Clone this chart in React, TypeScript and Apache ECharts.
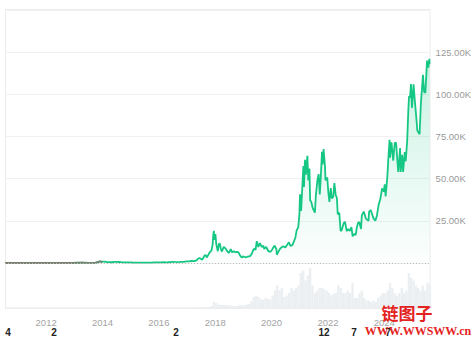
import React, { useEffect, useRef } from 'react';
import * as echarts from 'echarts';

const priceDates: string[] = [
  '2010-07-17', '2010-10-01', '2011-01-01', '2011-06-08', '2011-09-01', '2011-12-01', '2012-06-01', '2012-12-01',
  '2013-04-09', '2013-07-01', '2013-10-01', '2013-12-01', '2013-12-20',
  '2014-01-01', '2014-02-01', '2014-03-01', '2014-04-01', '2014-05-01', '2014-06-01', '2014-07-01', '2014-08-01', '2014-09-01', '2014-10-01', '2014-11-01', '2014-12-01',
  '2015-01-01', '2015-02-01', '2015-03-01', '2015-04-01', '2015-05-01', '2015-06-01', '2015-07-01', '2015-08-01', '2015-09-01', '2015-10-01', '2015-11-01', '2015-12-01',
  '2016-01-01', '2016-02-01', '2016-03-01', '2016-04-01', '2016-05-01', '2016-06-01', '2016-07-01', '2016-08-01', '2016-09-01', '2016-10-01', '2016-11-01', '2016-12-01',
  '2017-01-01', '2017-02-01', '2017-03-01', '2017-04-01', '2017-05-01', '2017-05-25', '2017-06-12', '2017-07-01', '2017-07-16', '2017-08-01', '2017-08-15', '2017-09-01', '2017-09-15', '2017-10-01', '2017-10-20', '2017-11-01', '2017-11-15', '2017-12-01', '2017-12-08', '2017-12-17', '2017-12-22',
  '2018-01-06', '2018-01-17', '2018-02-06', '2018-02-20', '2018-03-05', '2018-03-18', '2018-04-01', '2018-04-24', '2018-05-15', '2018-06-01', '2018-06-28', '2018-07-24', '2018-08-10', '2018-08-30', '2018-09-15', '2018-10-15', '2018-11-01', '2018-11-20', '2018-12-15', '2018-12-28',
  '2019-01-15', '2019-02-07', '2019-02-28', '2019-03-31', '2019-04-20', '2019-05-14', '2019-05-30', '2019-06-10', '2019-06-26', '2019-07-16', '2019-08-06', '2019-08-29', '2019-09-20', '2019-10-01', '2019-10-26', '2019-11-25', '2019-12-17',
  '2020-01-01', '2020-01-20', '2020-02-13', '2020-03-08', '2020-03-12', '2020-04-01', '2020-04-29', '2020-05-20', '2020-06-10', '2020-07-01', '2020-07-27', '2020-08-17', '2020-09-05', '2020-10-01', '2020-10-21', '2020-11-10', '2020-11-24', '2020-12-16', '2020-12-31',
  '2021-01-08', '2021-01-22', '2021-02-08', '2021-02-21', '2021-02-28', '2021-03-13', '2021-03-25', '2021-04-13', '2021-04-25', '2021-05-10', '2021-05-19', '2021-06-01', '2021-06-22', '2021-07-20', '2021-08-01', '2021-08-22', '2021-09-06', '2021-09-21', '2021-10-01', '2021-10-20', '2021-10-28', '2021-11-09', '2021-11-28', '2021-12-04', '2021-12-27',
  '2022-01-10', '2022-01-24', '2022-02-10', '2022-02-24', '2022-03-15', '2022-03-29', '2022-04-15', '2022-05-01', '2022-05-12', '2022-06-01', '2022-06-18', '2022-07-01', '2022-07-30', '2022-08-15', '2022-09-06', '2022-09-15', '2022-10-15', '2022-11-05', '2022-11-21', '2022-12-15', '2022-12-30',
  '2023-01-14', '2023-01-29', '2023-02-15', '2023-03-10', '2023-03-20', '2023-04-14', '2023-05-12', '2023-06-15', '2023-06-23', '2023-07-13', '2023-08-17', '2023-09-11', '2023-10-01', '2023-10-24', '2023-11-15', '2023-12-08', '2023-12-31',
  '2024-01-11', '2024-01-23', '2024-02-15', '2024-02-28', '2024-03-14', '2024-03-20', '2024-04-08', '2024-04-30', '2024-05-21', '2024-06-07', '2024-06-24', '2024-07-05', '2024-07-29', '2024-08-05', '2024-08-25', '2024-09-06', '2024-09-28', '2024-10-10', '2024-10-29', '2024-11-13', '2024-11-22', '2024-12-05', '2024-12-17', '2024-12-30',
  '2025-01-20', '2025-02-03', '2025-02-25', '2025-03-10', '2025-04-08', '2025-04-25', '2025-05-10', '2025-05-22', '2025-06-05', '2025-06-22', '2025-07-14', '2025-07-31', '2025-08-13', '2025-08-16',
];

const priceValues: number[] = [
  0.05, 0.06, 0.3, 30, 8, 3, 5, 13,
  200, 90, 125, 1000, 650,
  770, 800, 560, 470, 450, 630, 640, 590, 480, 390, 330, 380,
  320, 230, 255, 245, 235, 225, 260, 280, 230, 237, 320, 360,
  430, 370, 435, 415, 450, 535, 680, 620, 570, 610, 700, 750,
  1000, 980, 1190, 1080, 1420, 2500, 2950, 2500, 1950, 2870, 4300, 4800, 3300, 4400, 6000, 6700, 7300, 10900, 16000, 19100, 13800,
  17100, 11200, 7000, 11400, 11500, 8200, 6800, 9600, 8700, 7500, 5900, 8200, 6300, 7000, 6500, 6600, 6350, 4500, 3200, 3900,
  3600, 3400, 3800, 4100, 5300, 7900, 8600, 7700, 12900, 9500, 11800, 9500, 10200, 8300, 9500, 7000, 6600,
  7200, 8700, 10300, 8000, 4900, 6600, 8800, 9500, 9800, 9200, 11000, 12300, 10200, 10600, 12800, 15300, 19200, 21300, 29000,
  40800, 30800, 46300, 57500, 45100, 61200, 52300, 63500, 49000, 56000, 37000, 36600, 32500, 29800, 39900, 49300, 52700, 40700, 48000, 66000, 58500, 67500, 57200, 49000, 50700,
  41800, 36200, 44400, 38300, 39300, 47400, 40500, 38500, 28900, 29800, 19000, 19300, 23800, 24300, 18800, 20200, 19100, 21300, 15800, 17400, 16500,
  20900, 23700, 24300, 20200, 28200, 30500, 26300, 25000, 30500, 31400, 26600, 25100, 27900, 34500, 37900, 44200, 42300,
  46600, 39500, 51800, 62500, 73100, 62400, 71600, 60600, 71400, 71100, 60300, 54000, 68200, 54000, 64200, 54000, 65800, 60300, 72500, 90500, 98900, 98000, 106100, 92000,
  106000, 97500, 86000, 78500, 76300, 94700, 104000, 111600, 101500, 100900, 120000, 115800, 121000, 118000,
];

// monthly volume (billions), Jan 2017 .. Aug 2025
const volumeStartYear = 2017;
const volumeValues: number[] = [
  0.3, 0.2, 0.5, 0.4, 1.2, 1.5, 1.0, 2.0, 2.0, 2.0, 4.0, 12,
  10, 7, 6, 6, 6, 5, 5, 4, 4, 4, 6, 5,
  6, 7, 8, 14, 22, 25, 22, 18, 16, 20, 18, 17,
  25, 35, 45, 35, 40, 22, 25, 30, 40, 35, 40, 45,
  70, 75, 55, 65, 80, 45, 30, 35, 40, 40, 38, 35,
  30, 25, 28, 30, 45, 40, 30, 30, 35, 30, 50, 20,
  20, 30, 35, 20, 15, 15, 12, 15, 12, 20, 25, 30,
  30, 35, 50, 40, 30, 25, 30, 40, 30, 35, 70, 60,
  55, 45, 40, 35, 45, 35, 50, 45,
];

const yearLabels: number[] = [2012, 2014, 2016, 2018, 2020, 2022, 2024];
const axisStart = '2010-07-17';
const axisEnd = '2025-08-16';
const earlyEnd = 2014.0; // early history drawn in grey
const priceMax = 150000;
const priceStep = 25000;
const volumeMax = 90;

const strayTexts: { text: string; x: number }[] = [
  { text: '4', x: 8 },
  { text: '2', x: 54 },
  { text: '2', x: 176 },
  { text: '12', x: 324 },
  { text: '7', x: 354 },
  { text: '7', x: 388 },
];

// date string -> fractional year (unit conversion for a value axis)
function toYear(s: string): number {
  const [y, m, d] = s.split('-').map(Number);
  const t = Date.UTC(y, m - 1, d);
  const a = Date.UTC(y, 0, 1);
  const b = Date.UTC(y + 1, 0, 1);
  return y + (t - a) / (b - a);
}

export default function App() {
  const ref = useRef<HTMLDivElement>(null);
  useEffect(() => {
    if (!ref.current) return;
    const chart = echarts.init(ref.current, undefined, { renderer: 'svg' });
    const priceData = priceDates.map((d, i) => [toYear(d), priceValues[i]]);
    const earlyData = priceData.filter((p) => p[0] <= earlyEnd + 0.01);
    const volumeData = volumeValues.map((v, i) => {
      const y = volumeStartYear + Math.floor(i / 12);
      const m = (i % 12) + 1;
      return [toYear(`${y}-${m}-15`), v];
    });
    const green = '#16c784';
    const xMin = toYear(axisStart);
    const xMax = toYear(axisEnd);
    chart.setOption({
      animation: false,
      grid: [
        { left: 5, right: 44, top: 10, height: 253 },
        { left: 5, right: 44, top: 263, height: 45 },
      ],
      xAxis: [
        {
          type: 'value',
          gridIndex: 0,
          min: xMin,
          max: xMax,
          axisLine: { show: false },
          axisTick: { show: false },
          axisLabel: { show: false },
          splitLine: { show: false },
        },
        {
          type: 'value',
          gridIndex: 1,
          min: xMin,
          max: xMax,
          axisLine: { show: true, lineStyle: { color: '#ececec' } },
          axisTick: { show: false },
          splitLine: { show: false },
          axisLabel: {
            customValues: yearLabels,
            formatter: (v: number) => String(Math.round(v)),
            color: '#a3a3a3',
            fontSize: 9.5,
            fontFamily: 'Liberation Sans',
            margin: 9,
          },
        },
      ],
      yAxis: [
        {
          type: 'value',
          gridIndex: 0,
          position: 'right',
          min: 0,
          max: priceMax,
          interval: priceStep,
          axisLine: { show: false },
          axisTick: { show: false },
          splitLine: { lineStyle: { color: '#f1f1f1' } },
          axisLabel: {
            margin: 6,
            color: '#9a9a9a',
            fontSize: 9.5,
            fontFamily: 'Liberation Sans',
            formatter: (v: number) => (v === 0 || v === priceMax ? '' : (v / 1000).toFixed(2) + 'K'),
          },
        },
        {
          type: 'value',
          gridIndex: 1,
          min: 0,
          max: volumeMax,
          show: false,
          splitLine: { show: false },
        },
      ],
      series: [
        {
          type: 'bar',
          xAxisIndex: 1,
          yAxisIndex: 1,
          data: volumeData,
          barWidth: 2.4,
          itemStyle: { color: '#eceff2' },
        },
        {
          type: 'line',
          xAxisIndex: 0,
          yAxisIndex: 0,
          data: priceData,
          showSymbol: false,
          z: 3,
          lineStyle: { width: 1.8, color: green },
          areaStyle: {
            color: new echarts.graphic.LinearGradient(0, 0, 0, 1, [
              { offset: 0, color: 'rgba(22,199,132,0.32)' },
              { offset: 1, color: 'rgba(22,199,132,0.02)' },
            ]),
          },
        },
        {
          type: 'line',
          xAxisIndex: 0,
          yAxisIndex: 0,
          data: earlyData,
          showSymbol: false,
          z: 4,
          lineStyle: { width: 1.8, color: '#7a8072' },
        },
      ],
      graphic: [
        {
          type: 'rect',
          silent: true,
          shape: { x: 5.5, y: 9.5, width: 424.5, height: 298.5 },
          style: { fill: 'none', stroke: '#ececec', lineWidth: 1 },
        },
        {
          type: 'line',
          silent: true,
          z: 10,
          shape: { x1: 5, y1: 263.5, x2: 430, y2: 263.5 },
          style: { stroke: '#bdbdbd', lineWidth: 1, lineDash: [1, 2] },
        },
        ...strayTexts.map((s) => ({
          type: 'text',
          x: s.x,
          y: 332,
          z: 50,
          style: {
            text: s.text,
            fill: '#222',
            fontSize: 10,
            fontWeight: 'bold',
            fontFamily: 'Liberation Sans',
            textAlign: 'center',
            textVerticalAlign: 'middle',
          },
        })),
        {
          type: 'text',
          x: 407,
          y: 312,
          z: 60,
          style: {
            text: '链图子',
            fill: '#e3231e',
            fontSize: 17,
            fontWeight: 'bold',
            fontFamily: 'Noto Sans CJK SC',
            textAlign: 'center',
            textVerticalAlign: 'middle',
          },
        },
        {
          type: 'text',
          x: 418,
          y: 331,
          z: 60,
          style: {
            text: 'WWW.WWSWW.cn',
            fill: '#e3231e',
            fontSize: 12,
            fontWeight: 'bold',
            fontFamily: 'Liberation Serif',
            textAlign: 'center',
            textVerticalAlign: 'middle',
          },
        },
      ],
    });
    return () => chart.dispose();
  }, []);
  return <div ref={ref} style={{ position: 'absolute', left: 0, top: 0, width: 474, height: 341 }} />;
}
